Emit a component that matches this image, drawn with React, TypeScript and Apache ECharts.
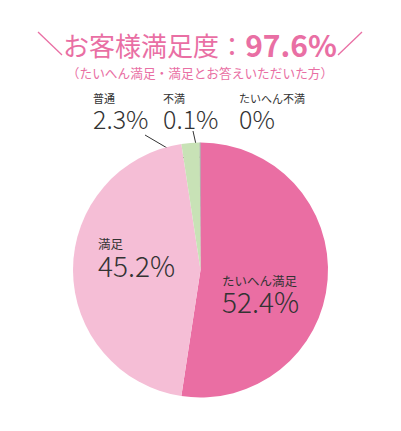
import { useEffect, useRef } from "react";
import * as echarts from "echarts";

// Survey answers, clockwise from 12 o'clock.
const categories = ["たいへん満足", "満足", "普通", "不満", "たいへん不満"];
const values = [52.4, 45.2, 2.3, 0.1, 0];
const sliceColors = ["#ea6ea3", "#f5bed6", "#c8e2b6", "#8a8a8a", "#555555"];

const TITLE = "お客様満足度：";
const TITLE_VALUE = "97.6%";
const SUBTITLE = "（たいへん満足・満足とお答えいただいた方）";

const PINK = "#e96fa4";
const INK = "#333333";
const FONT = '"Noto Sans CJK JP", "Noto Sans", sans-serif';

// Where each label sits (top-left), and the leader line for the small slices.
const LABEL_POS: Record<number, { x: number; y: number; line?: number[][] }> = {
  0: { x: 222, y: 273 },
  1: { x: 98, y: 236.5 },
  2: { x: 93, y: 90.5, line: [[145, 135], [168, 148.5], [191, 162]] },
  3: { x: 163, y: 90.5, line: [[193, 131], [196, 144.5], [199, 158]] },
  4: { x: 239, y: 90.5 },
};

function buildOption() {
  return {
    animation: false,
    graphic: [
      {
        type: "text",
        style: {
          text: `{a|${TITLE}}{b|${TITLE_VALUE}}`,
          x: 200,
          y: 44,
          align: "center",
          verticalAlign: "middle",
          rich: {
            a: { fontSize: 26, fontFamily: FONT, fill: PINK, fontWeight: "normal" },
            b: { fontSize: 30, fontFamily: FONT, fill: PINK, fontWeight: "bold" },
          },
        },
      },
      {
        type: "text",
        style: {
          text: SUBTITLE,
          x: 200,
          y: 72,
          align: "center",
          verticalAlign: "middle",
          fontSize: 12.7,
          fontFamily: FONT,
          fill: PINK,
        },
      },
      { type: "line", shape: { x1: 38, y1: 32, x2: 62, y2: 55 }, style: { stroke: PINK, lineWidth: 1.3 } },
      { type: "line", shape: { x1: 338, y1: 55, x2: 362, y2: 32 }, style: { stroke: PINK, lineWidth: 1.3 } },
    ],
    series: [
      {
        type: "pie",
        center: [200.5, 270],
        radius: [0, 127.5],
        startAngle: 90,
        clockwise: true,
        avoidLabelOverlap: false,
        itemStyle: { borderWidth: 0 },
        label: {
          show: true,
          position: "outside",
          formatter: (p: any) =>
            p.dataIndex < 2 ? `{N|${p.name}}\n{V|${p.value}%}` : `{n|${p.name}}\n{v|${p.value}%}`,
          rich: {
            N: { fontSize: 12.5, lineHeight: 14, fontFamily: FONT, color: INK },
            V: { fontSize: 28, lineHeight: 28, fontFamily: FONT, color: INK, fontWeight: 300 },
            n: { fontSize: 11, lineHeight: 15, fontFamily: FONT, color: INK },
            v: { fontSize: 25, lineHeight: 25, fontFamily: FONT, color: INK, fontWeight: 300 },
          },
        },
        labelLine: { show: true, lineStyle: { color: INK, width: 1 } },
        labelLayout: (p: any) => {
          const pos = LABEL_POS[p.dataIndex];
          return {
            x: pos.x,
            y: pos.y,
            align: "left",
            verticalAlign: "top",
            ...(pos.line ? { labelLinePoints: pos.line } : {}),
          };
        },
        emphasis: { disabled: true },
        data: categories.map((name, i) => ({
          name,
          value: values[i],
          itemStyle: { color: sliceColors[i] },
          labelLine: { show: !!LABEL_POS[i].line },
        })),
      },
    ],
  };
}

export default function App() {
  const ref = useRef<HTMLDivElement>(null);
  useEffect(() => {
    document.body.style.margin = "0";
    if (!ref.current) return;
    const chart = echarts.init(ref.current, undefined, { renderer: "svg" });
    chart.setOption(buildOption() as any);
    return () => chart.dispose();
  }, []);
  return <div ref={ref} style={{ width: 401, height: 431, background: "#fff" }} />;
}
